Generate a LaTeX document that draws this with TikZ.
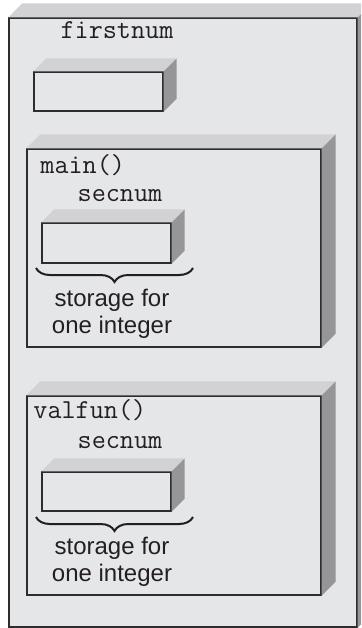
\documentclass[tikz,border=0pt]{standalone}
\usepackage{fontspec}
\setmainfont{Liberation Sans}
\usepackage{tikz}
\usetikzlibrary{calc,positioning,decorations.pathreplacing}
\definecolor{facegray}{RGB}{229,230,232}
\definecolor{topgray}{RGB}{210,210,212}
\definecolor{sidegray}{RGB}{150,150,153}
\definecolor{edgegray}{RGB}{45,45,48}
\definecolor{inkgray}{RGB}{35,31,32}
% top and right faces of a front node, #2 = depth
\newcommand\boxfaces[2]{%
  \fill[topgray] (#1.north west) -- ++(#2,#2) -- ($(#1.north east)+(#2,#2)$) -- (#1.north east) -- cycle;
  \fill[sidegray] (#1.north east) -- ++(#2,#2) -- ($(#1.south east)+(#2,#2)$) -- (#1.south east) -- cycle;}

\begin{document}
\begin{tikzpicture}[x=0.5pt,y=-0.5pt,
  front/.style={draw=edgegray,fill=facegray,line width=0.7pt,inner sep=0pt},
  code/.style={font=\ttfamily\fontsize{13.7}{15}\selectfont,text=inkgray,inner sep=0pt},
  note/.style={font=\fontsize{12}{13.5}\selectfont,text=inkgray,align=center,inner sep=0pt},
  curly/.style={decorate,decoration={brace,mirror,amplitude=7pt},line width=1pt,draw=inkgray}]
\useasboundingbox (0,0) rectangle (361,628);
\clip (0,0) rectangle (361,628);
\fill[white] (0,0) rectangle (361,628);
% global storage
\node[front,minimum width=174pt,minimum height=304.5pt] (stack) at (183,322.5) {};
\boxfaces{stack}{7pt}
\node[code,anchor=base] (firstlbl) at (117,38) {firstnum};
\node[front,minimum width=64.5pt,minimum height=19.5pt] (firstcell) at (98.5,91.5) {};
\boxfaces{firstcell}{6.5pt}
% main()
\node[front,minimum width=147pt,minimum height=99pt] (mainfr) at (174,248) {};
\boxfaces{mainfr}{7pt}
\node[code,anchor=base west] (mainlbl) at (40,173) {main()};
\node[code,anchor=base] (secA) at (120,201) {secnum};
\node[front,minimum width=64.5pt,minimum height=20pt] (cellA) at (106.5,243) {};
\boxfaces{cellA}{6.5pt}
\coordinate (braceAl) at (36,268);
\coordinate (braceAr) at (193,268);
\draw[curly] (braceAl) -- (braceAr);
\node[note,anchor=north] (noteA) at (112,289) {storage for\\one integer};
% valfun()
\node[front,minimum width=147pt,minimum height=99.5pt] (valfr) at (174,495.5) {};
\boxfaces{valfr}{7pt}
\node[code,anchor=base west] (vallbl) at (33,418) {valfun()};
\node[code,anchor=base] (secB) at (120,448) {secnum};
\node[front,minimum width=64.5pt,minimum height=19.5pt] (cellB) at (106.5,491.5) {};
\boxfaces{cellB}{6.5pt}
\coordinate (braceBl) at (36,517);
\coordinate (braceBr) at (193,517);
\draw[curly] (braceBl) -- (braceBr);
\node[note,anchor=north] (noteB) at (112,537) {storage for\\one integer};
\end{tikzpicture}
\end{document}
